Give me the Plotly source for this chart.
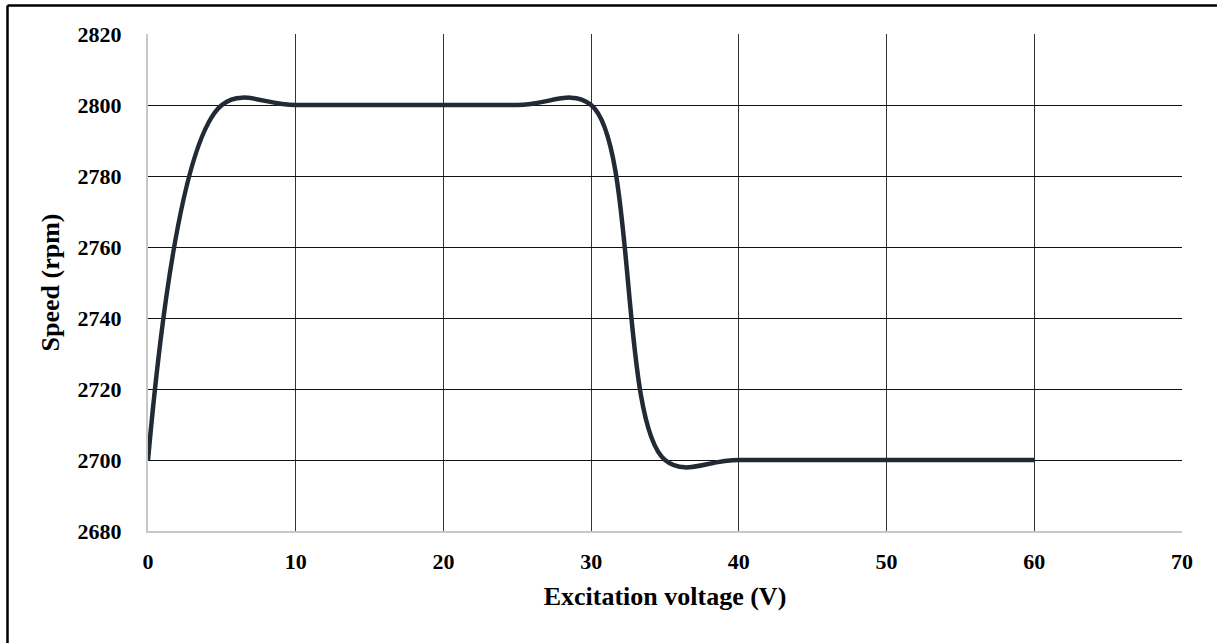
import plotly.graph_objects as go

voltage = [0, 5, 10, 25, 30, 35, 40, 60]
speed = [2700, 2800, 2800, 2800, 2800, 2700, 2700, 2700]
x_ticks = [0, 10, 20, 30, 40, 50, 60, 70]
y_ticks = [2680, 2700, 2720, 2740, 2760, 2780, 2800, 2820]

W, H = 1217, 643
L, R, T, B = 148, 35, 34, 112
pw, ph = W - L - R, H - T - B

fig = go.Figure()
fig.add_trace(go.Scatter(
    x=voltage, y=speed, mode="lines",
    line=dict(color="#222a36", width=4.5, shape="spline", smoothing=1),
    showlegend=False,
))

font = dict(family="Liberation Serif", size=22, color="black")
fig.update_layout(
    width=W, height=H,
    margin=dict(l=L, r=R, t=T, b=B),
    paper_bgcolor="white", plot_bgcolor="white",
    font=font,
    xaxis=dict(
        range=[0, 70], tickvals=x_ticks, ticktext=[f"<b>{v}</b>" for v in x_ticks],
        showgrid=True, gridcolor="#333333", gridwidth=1,
        showline=True, linecolor="#c8c8c8", linewidth=2,
        zeroline=False, ticks="", ticklen=0, ticklabelstandoff=10,
        title=dict(text="<b>Excitation voltage (V)</b>", font=dict(family="Liberation Serif", size=26), standoff=13),
        mirror=False,
    ),
    yaxis=dict(
        range=[2680, 2820], tickvals=y_ticks, ticktext=[f"<b>{v}</b>" for v in y_ticks],
        showgrid=True, gridcolor="#111111", gridwidth=1,
        showline=True, linecolor="#c8c8c8", linewidth=2,
        zeroline=False, ticks="", ticklen=0, ticklabelstandoff=20,
        title=dict(text="<b>Speed (rpm)</b>", font=dict(family="Liberation Serif", size=26), standoff=10),
    ),
)

def px_x(p):
    return (p - L) / pw

def px_y(p):
    return (H - B - p) / ph

fig.add_shape(type="line", xref="paper", yref="paper",
              x0=px_x(7.5), x1=px_x(1217), y0=px_y(5.5), y1=px_y(5.5),
              line=dict(color="black", width=2.5))
fig.add_shape(type="line", xref="paper", yref="paper",
              x0=px_x(7.5), x1=px_x(7.5), y0=px_y(5.5), y1=px_y(643),
              line=dict(color="black", width=2.5))

fig.write_html("out.html")
